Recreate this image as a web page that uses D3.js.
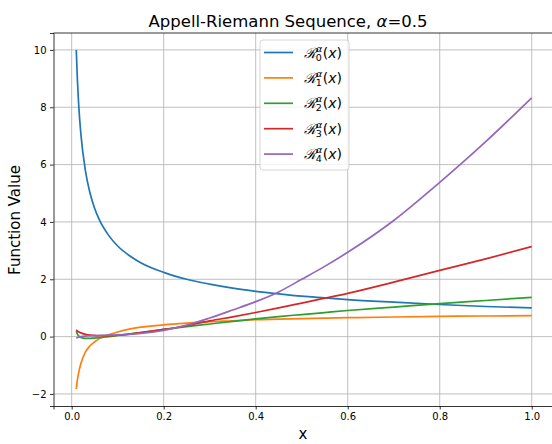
<!DOCTYPE html>
<html><head><meta charset="utf-8">
<script src="https://cdn.jsdelivr.net/npm/d3@7"></script>
<style>body{margin:0;background:#fff}svg{display:block;font-family:"DejaVu Sans",sans-serif}</style>
</head><body>
<svg id="c" width="552" height="444"></svg>
<script>
const xs = [0.01,0.0125,0.015,0.02,0.03,0.04,0.05,0.06,0.08,0.1,0.125,0.15,0.2,0.25,0.3,0.35,0.4,0.45,0.5,0.55,0.6,0.7,0.8,0.9,1.0];
const r0 = [10,8.94,8.16,7.07,5.77,5.0,4.47,4.08,3.54,3.16,2.83,2.58,2.24,2.0,1.83,1.69,1.58,1.49,1.41,1.35,1.29,1.2,1.12,1.05,1.0];
const r1 = [-1.83,-1.5,-1.28,-0.94,-0.53,-0.32,-0.18,-0.07,0.06,0.16,0.26,0.33,0.41,0.47,0.52,0.55,0.59,0.61,0.63,0.645,0.66,0.685,0.705,0.72,0.73];
const r2 = [0.2,0.09,0.03,-0.03,-0.06,-0.06,-0.05,-0.04,0.0,0.04,0.09,0.14,0.25,0.35,0.44,0.53,0.62,0.7,0.77,0.84,0.91,1.03,1.15,1.26,1.37];
const r3 = [0.24,0.2,0.17,0.13,0.08,0.05,0.04,0.03,0.03,0.05,0.09,0.14,0.25,0.38,0.55,0.69,0.84,1.0,1.17,1.34,1.51,1.9,2.31,2.71,3.14];
const r4 = [-0.05,-0.035,-0.02,0.0,0.02,0.03,0.035,0.04,0.05,0.06,0.08,0.11,0.22,0.4,0.65,0.93,1.22,1.56,2.0,2.45,2.94,4.05,5.38,6.8,8.33];
const seriesNames = ["0","1","2","3","4"];
const colors = ["#1f77b4","#ff7f0e","#2ca02c","#d62728","#9467bd"];
const xTicks = [0,0.2,0.4,0.6,0.8,1.0];
const yTicks = [-2,0,2,4,6,8,10];
const title = "Appell-Riemann Sequence, ";
const xLabel = "x", yLabel = "Function Value";

const svg = d3.select("#c");
const L = 53.5, R = 554.5, T = 33, B = 406;
const x = d3.scaleLinear().domain([-0.0395, 1.0495]).range([L, R]);
const y = d3.scaleLinear().domain([-2.42, 10.59]).range([B, T]);

// grid
const g = svg.append("g");
g.selectAll("line.gx").data(xTicks).join("line")
 .attr("x1", d=>x(d)).attr("x2", d=>x(d)).attr("y1", T).attr("y2", B)
 .attr("stroke","#b0b0b0").attr("stroke-width",0.8);
g.selectAll("line.gy").data(yTicks).join("line")
 .attr("y1", d=>y(d)).attr("y2", d=>y(d)).attr("x1", L).attr("x2", R)
 .attr("stroke","#b0b0b0").attr("stroke-width",0.8);

// lines
const all = [r0,r1,r2,r3,r4];
const line = d3.line().x((d,i)=>x(xs[i])).y(d=>y(d)).curve(d3.curveMonotoneX);
all.forEach((s,k)=>{
  svg.append("path").attr("d", line(s)).attr("fill","none")
   .attr("stroke", colors[k]).attr("stroke-width",1.7);
});

// axes
const xa = svg.append("g").attr("transform",`translate(0,${B})`)
 .call(d3.axisBottom(x).tickValues(xTicks).tickFormat(d3.format(".1f")).tickSizeOuter(0).tickSize(3.5).tickPadding(3.5));
const ya = svg.append("g").attr("transform",`translate(${L},0)`)
 .call(d3.axisLeft(y).tickValues(yTicks).tickFormat(d=>d<0?"\u2212"+Math.abs(d):d).tickSizeOuter(0).tickSize(3.5).tickPadding(3.5));
[xa,ya].forEach(a=>{
  a.selectAll("text").attr("font-size",10).attr("font-family","DejaVu Sans").attr("fill","#000");
  a.selectAll("line").attr("stroke","#000").attr("stroke-width",0.8);
  a.select(".domain").attr("stroke","#000").attr("stroke-width",0.8);
});
// top spine
svg.append("line").attr("x1",L).attr("x2",R).attr("y1",T).attr("y2",T).attr("stroke","#000").attr("stroke-width",0.8);

// title
const t = svg.append("text").attr("x",288).attr("y",26.5).attr("text-anchor","middle").attr("font-size",16.5);
t.append("tspan").text(title);
t.append("tspan").attr("font-style","italic").text("α");
t.append("tspan").text("=0.5");

svg.append("text").attr("x",303).attr("y",439).attr("text-anchor","middle").attr("font-size",15).text(xLabel);
svg.append("text").attr("transform","translate(20,220) rotate(-90)").attr("text-anchor","middle").attr("font-size",15).text(yLabel);

// legend
const lg = svg.append("g");
lg.append("rect").attr("x",260).attr("y",40).attr("width",89).attr("height",130).attr("rx",3)
 .attr("fill","#fff").attr("fill-opacity",0.8).attr("stroke","#cccccc").attr("stroke-width",0.8);
seriesNames.forEach((n,i)=>{
  const cy = 52.5 + i*25.4;
  lg.append("line").attr("x1",264).attr("x2",293).attr("y1",cy).attr("y2",cy).attr("stroke",colors[i]).attr("stroke-width",1.7);
  const tx = lg.append("text").attr("x",304).attr("y",cy+5).attr("font-size",14);
  tx.append("tspan").attr("font-family","DejaVu Serif").attr("font-style","italic").text("ℛ");
  tx.append("tspan").attr("font-size",9.5).attr("font-style","italic").attr("dy",-6).text("α");
  tx.append("tspan").attr("font-size",9.5).attr("dx",-6.5).attr("dy",9).text(n);
  tx.append("tspan").attr("dy",-3).attr("dx",1).text("(");
  tx.append("tspan").attr("font-style","italic").text("x");
  tx.append("tspan").text(")");
});
</script>
</body></html>
